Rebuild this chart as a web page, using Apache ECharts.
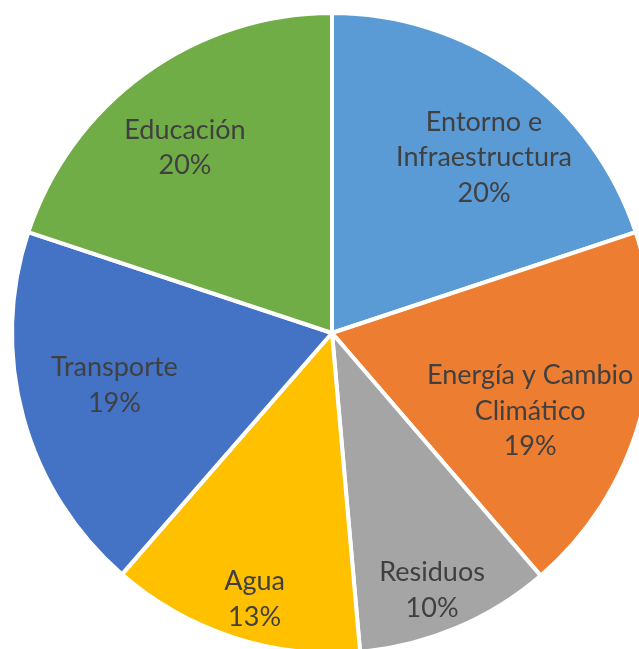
<!DOCTYPE html>
<html>
<head>
    <meta charset="UTF-8">
    <script type="text/javascript" src="https://cdn.jsdelivr.net/npm/echarts@6/dist/echarts.min.js"></script>
</head>
<body style="margin: 0;padding: 0;background: #fff;">
<div id="main" style="width: 639px;height:649px;"></div>
<script>
    // datos
    var categories = ['Entorno e Infraestructura', 'Energía y Cambio Climático', 'Residuos', 'Agua', 'Transporte', 'Educación']
    var labelText = ['Entorno e\nInfraestructura', 'Energía y Cambio\nClimático', 'Residuos', 'Agua', 'Transporte', 'Educación']
    var values = [19.9, 18.8, 9.9, 12.8, 18.7, 19.9]
    var colors = ['#5B9BD5', '#ED7D31', '#A5A5A5', '#FFC000', '#4472C4', '#70AD47']
    // posicion de cada etiqueta: distancia al centro (fraccion del radio) y giro en grados
    var labelRatio = [0.716, 0.656, 0.853, 0.858, 0.69, 0.73]
    var labelShift = [5.1, 6, 1.6, -1.8, 1.8, -2.6]

    var chart = echarts.init(document.getElementById('main'));
    var R = 320
    var center = [332, 333]

    var pieData = []
    for (var i = 0; i < categories.length; i++) {
        pieData.push({name: categories[i], value: values[i], itemStyle: {color: colors[i]}})
    }

    var series = [{
        type: 'pie',
        center: center,
        radius: R,
        startAngle: 90,
        clockwise: true,
        animation: false,
        silent: true,
        data: pieData,
        label: {show: false},
        labelLine: {show: false},
        itemStyle: {borderColor: '#ffffff', borderWidth: 4}
    }]

    // series transparentes solo para colocar las etiquetas
    for (var k = 0; k < categories.length; k++) {
        var d = []
        for (var j = 0; j < categories.length; j++) {
            d.push({
                name: categories[j],
                value: values[j],
                label: {show: j === k}
            })
        }
        series.push({
            type: 'pie',
            center: center,
            radius: 2 * labelRatio[k] * R,
            startAngle: 90 - labelShift[k],
            clockwise: true,
            animation: false,
            silent: true,
            avoidLabelOverlap: false,
            itemStyle: {color: 'rgba(0,0,0,0)'},
            labelLine: {show: false},
            label: {
                position: 'inside',
                fontFamily: 'Lato',
                fontSize: 27,
                lineHeight: 35.5,
                color: '#404040',
                align: 'center',
                formatter: function (p) {
                    return labelText[p.dataIndex] + '\n' + Math.round(p.percent) + '%'
                }
            },
            data: d
        })
    }

    chart.setOption({series: series});
</script>
</body>
</html>
